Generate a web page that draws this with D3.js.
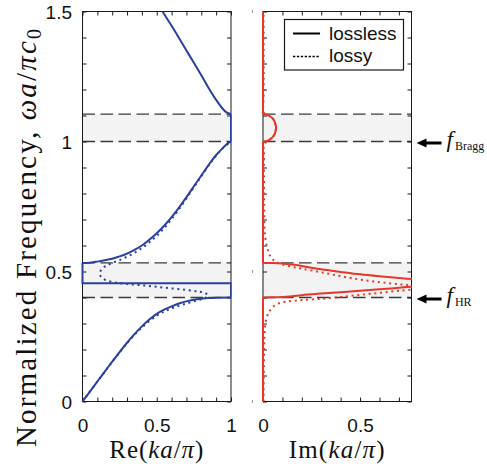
<!DOCTYPE html>
<html>
<head>
<meta charset="utf-8">
<script src="https://cdn.jsdelivr.net/npm/d3@7"></script>
<style>
  html, body { margin: 0; padding: 0; background: #fff; }
  svg { display: block; }
</style>
</head>
<body>
<svg id="chart" width="487" height="468"></svg>
<script>
// ---- data: frequency (omega a / pi c0) vs. wavenumber ----
const omegaTicks = [0, 0.5, 1, 1.5];
const reTicks = [0, 0.5, 1];
const imTicks = [0, 0.5];
const gapHR = [0.4, 0.533];
const gapBragg = [1.0, 1.105];
const fHR = 0.4;
const fBragg = 1.0;

// Re(ka/pi), lossless: [Re, omega]
const reBand1 = [[0,0],[0.05,0.038],[0.1,0.077],[0.15,0.115],[0.2,0.153],[0.25,0.19],[0.3,0.226],[0.35,0.259],[0.4,0.289],[0.45,0.315],[0.5,0.337],[0.55,0.353],[0.6,0.366],[0.65,0.377],[0.7,0.385],[0.75,0.391],[0.8,0.395],[0.85,0.398],[0.9,0.3995],[1,0.4]];
const reBand2 = [[0,0.533],[0.05,0.534],[0.1,0.538],[0.15,0.543],[0.2,0.549],[0.25,0.558],[0.3,0.569],[0.35,0.583],[0.4,0.6],[0.45,0.622],[0.5,0.647],[0.55,0.676],[0.6,0.709],[0.65,0.746],[0.7,0.786],[0.75,0.828],[0.8,0.869],[0.85,0.91],[0.9,0.948],[0.95,0.978],[0.98,0.994],[1,1.0]];
const reBand3 = [[1,1.105],[0.97,1.112],[0.95,1.122],[0.9,1.16],[0.85,1.205],[0.8,1.255],[0.75,1.303],[0.7,1.35],[0.65,1.398],[0.6,1.445],[0.55,1.49],[0.52,1.52]];
const reGapHR = [[1,0.4],[1,0.455],[0,0.455],[0,0.533]];
const reGapBragg = [[1,1.0],[1,1.105]];

// Re(ka/pi), lossy
const reLossy = [[0,0],[0.1,0.077],[0.2,0.152],[0.3,0.224],[0.4,0.285],[0.5,0.33],[0.55,0.346],[0.6,0.358],[0.65,0.368],[0.7,0.377],[0.75,0.385],[0.8,0.393],[0.83,0.4],[0.845,0.408],[0.83,0.416],[0.78,0.423],[0.7,0.429],[0.6,0.435],[0.5,0.441],[0.4,0.447],[0.3,0.452],[0.22,0.458],[0.16,0.466],[0.13,0.476],[0.117,0.488],[0.12,0.5],[0.135,0.512],[0.16,0.522],[0.2,0.533],[0.25,0.544],[0.3,0.557],[0.35,0.572],[0.4,0.59],[0.45,0.612],[0.5,0.637],[0.55,0.667],[0.6,0.701],[0.65,0.74],[0.7,0.781],[0.75,0.824],[0.8,0.866],[0.85,0.908],[0.9,0.946],[0.95,0.977],[0.99,0.995]];

// Im(ka/pi), lossless: [Im, omega]
const imZero = [[[0,0],[0,0.4]],[[0,0.533],[0,1.0]],[[0,1.105],[0,1.5]]];
const imLowBranch = [[0,0.4],[0.05,0.4005],[0.1,0.402],[0.15,0.405],[0.2,0.409],[0.3,0.415],[0.4,0.4205],[0.5,0.426],[0.6,0.4315],[0.7,0.4375],[0.8,0.4435]];
const imHighBranch = [[0.8,0.469],[0.7,0.475],[0.6,0.4815],[0.5,0.489],[0.4,0.4985],[0.3,0.5085],[0.25,0.5145],[0.2,0.521],[0.15,0.5265],[0.1,0.5305],[0.05,0.5325],[0,0.533]];
const imBraggArc = [[0,1.0],[0.02,1.002],[0.04,1.01],[0.055,1.022],[0.064,1.037],[0.067,1.052],[0.064,1.068],[0.055,1.083],[0.04,1.095],[0.02,1.103],[0,1.105]];

// Im(ka/pi), lossy
const imLossy = [[0.003,0],[0.004,0.1],[0.005,0.18],[0.007,0.24],[0.01,0.285],[0.019,0.323],[0.03,0.343],[0.044,0.357],[0.06,0.369],[0.08,0.377],[0.11,0.383],[0.15,0.387],[0.2,0.39],[0.3,0.395],[0.4,0.402],[0.5,0.41],[0.6,0.418],[0.7,0.426],[0.8,0.434],[0.82,0.439],[0.8,0.444],[0.7,0.451],[0.6,0.459],[0.5,0.469],[0.4,0.482],[0.3,0.497],[0.2,0.511],[0.15,0.518],[0.1,0.527],[0.075,0.534],[0.055,0.543],[0.04,0.556],[0.028,0.575],[0.019,0.6],[0.012,0.63],[0.008,0.67],[0.006,0.75],[0.005,0.85],[0.005,0.95],[0.006,0.99],[0.025,1.003],[0.045,1.012],[0.058,1.026],[0.065,1.042],[0.066,1.055],[0.062,1.07],[0.053,1.085],[0.038,1.097],[0.018,1.104],[0.005,1.11],[0.004,1.2],[0.003,1.5]];

// ---- layout ----
const BLUE = "#2b3f9f", RED = "#e4382c", INK = "#1a1a1a";
const SANS = "'Liberation Sans', Arial, sans-serif";
const SERIF = "'Liberation Serif', serif";

const svg = d3.select("#chart");
const y = d3.scaleLinear().domain([0, 1.5]).range([401.5, 11.5]);
const xRe = d3.scaleLinear().domain([0, 1]).range([82.5, 231]);
const xIm = d3.scaleLinear().domain([0, 0.765]).range([263, 411.5]);

function drawPanel(x, id) {
  const g = svg.append("g");
  const [x0, x1] = x.range();
  // shaded band gaps with dashed edges
  [gapHR, gapBragg].forEach(gp => {
    g.append("rect").attr("x", x0).attr("width", x1 - x0)
      .attr("y", y(gp[1])).attr("height", y(gp[0]) - y(gp[1]))
      .attr("fill", "#f3f3f3");
    gp.forEach(v => {
      g.append("line").attr("x1", x0).attr("x2", x1)
        .attr("y1", y(v)).attr("y2", y(v))
        .attr("stroke", "#3a3a3a").attr("stroke-width", 1.3)
        .attr("stroke-dasharray", "12.5,5.5");
    });
  });
  // frame
  g.append("rect").attr("x", x0).attr("y", y(1.5))
    .attr("width", x1 - x0).attr("height", y(0) - y(1.5))
    .attr("fill", "none").attr("stroke", INK).attr("stroke-width", 1);
  // inward minor ticks on all four sides
  const yMinor = d3.range(0, 1.5001, 0.1);
  const xMinor = d3.range(0, x.domain()[1] + 1e-6, 0.1);
  const styleTicks = s => { s.select(".domain").remove(); s.selectAll("line").attr("stroke", INK); };
  g.append("g").attr("transform", `translate(${x0},0)`)
    .call(d3.axisLeft(y).tickValues(yMinor).tickSize(-4).tickFormat("")).call(styleTicks);
  g.append("g").attr("transform", `translate(${x1},0)`)
    .call(d3.axisRight(y).tickValues(yMinor).tickSize(-4).tickFormat("")).call(styleTicks);
  g.append("g").attr("transform", `translate(0,${y(0)})`)
    .call(d3.axisBottom(x).tickValues(xMinor).tickSize(-4).tickFormat("")).call(styleTicks);
  g.append("g").attr("transform", `translate(0,${y(1.5)})`)
    .call(d3.axisTop(x).tickValues(xMinor).tickSize(-4).tickFormat("")).call(styleTicks);
  // clip for curves
  svg.append("clipPath").attr("id", id).append("rect")
    .attr("x", x0 - 3).attr("y", y(1.5)).attr("width", x1 - x0 + 3.5).attr("height", y(0) - y(1.5));
  return g;
}

const gL = drawPanel(xRe, "clipL");
const gR = drawPanel(xIm, "clipR");

// tick labels
const labelAxis = s => {
  s.select(".domain").remove();
  s.selectAll("line").remove();
  s.selectAll("text").attr("font-family", SANS).attr("font-size", 19).attr("fill", "#111");
};
svg.append("g").attr("transform", `translate(${xRe.range()[0]},1)`)
  .call(d3.axisLeft(y).tickValues(omegaTicks).tickSize(0).tickPadding(10.5).tickFormat(d3.format("~g")))
  .call(labelAxis);
svg.append("g").attr("transform", `translate(0,${y(0)})`)
  .call(d3.axisBottom(xRe).tickValues(reTicks).tickSize(0).tickPadding(17).tickFormat(d3.format("~g")))
  .call(labelAxis);
svg.append("g").attr("transform", `translate(0,${y(0)})`)
  .call(d3.axisBottom(xIm).tickValues(imTicks).tickSize(0).tickPadding(17).tickFormat(d3.format("~g")))
  .call(labelAxis);

// faint stubs left of the second panel
omegaTicks.filter(v => v !== 1).forEach(v => {
  svg.append("line").attr("x1", 252.5).attr("x2", 252.5)
    .attr("y1", y(v) - 1.5).attr("y2", y(v) + 1.5)
    .attr("stroke", "#999").attr("stroke-width", 1);
});

// ---- curves ----
const smooth = x => d3.line().x(d => x(d[0])).y(d => y(d[1])).curve(d3.curveCatmullRom.alpha(0.5));
const straight = x => d3.line().x(d => x(d[0])).y(d => y(d[1]));

const cL = svg.append("g").attr("clip-path", "url(#clipL)");
cL.append("path").attr("d", smooth(xRe)(reLossy)).attr("fill", "none")
  .attr("stroke", BLUE).attr("stroke-width", 2).attr("stroke-dasharray", "2,3.7");
[reBand1, reBand2, reBand3].forEach(b =>
  cL.append("path").attr("d", smooth(xRe)(b)).attr("fill", "none")
    .attr("stroke", BLUE).attr("stroke-width", 2));
[reGapHR, reGapBragg].forEach(s =>
  cL.append("path").attr("d", straight(xRe)(s)).attr("fill", "none")
    .attr("stroke", BLUE).attr("stroke-width", 2));

const cR = svg.append("g").attr("clip-path", "url(#clipR)");
cR.append("path").attr("d", smooth(xIm)(imLossy)).attr("fill", "none")
  .attr("stroke", RED).attr("stroke-width", 2).attr("stroke-dasharray", "2,3.7");
imZero.forEach(s =>
  cR.append("path").attr("d", straight(xIm)(s)).attr("fill", "none")
    .attr("stroke", RED).attr("stroke-width", 2));
[imLowBranch, imHighBranch, imBraggArc].forEach(b =>
  cR.append("path").attr("d", smooth(xIm)(b)).attr("fill", "none")
    .attr("stroke", RED).attr("stroke-width", 2));

// ---- legend ----
const lg = svg.append("g");
lg.append("rect").attr("x", 284.5).attr("y", 19.5).attr("width", 119).attr("height", 50.5)
  .attr("fill", "#fff").attr("stroke", INK).attr("stroke-width", 1.2);
lg.append("line").attr("x1", 293).attr("x2", 320).attr("y1", 33.5).attr("y2", 33.5)
  .attr("stroke", "#000").attr("stroke-width", 2);
lg.append("line").attr("x1", 293).attr("x2", 320).attr("y1", 56.5).attr("y2", 56.5)
  .attr("stroke", "#000").attr("stroke-width", 1.5).attr("stroke-dasharray", "2.3,1.6");
lg.append("text").attr("x", 329).attr("y", 39.5).text("lossless")
  .attr("font-family", SANS).attr("font-size", 19).attr("fill", "#111");
lg.append("text").attr("x", 329).attr("y", 62).text("lossy")
  .attr("font-family", SANS).attr("font-size", 19).attr("fill", "#111");

// ---- axis titles (math-style serif, slightly loose) ----
function spread(text, target) {
  const n = text.text().length;
  const len = text.node().getComputedTextLength();
  text.attr("letter-spacing", Math.max(0, (target - len) / (n - 1)));
}

function kTitle(prefix, cx) {
  const t = svg.append("text").attr("x", cx).attr("y", 457.5)
    .attr("text-anchor", "middle").attr("font-family", SERIF).attr("font-size", 25).attr("fill", "#111");
  t.append("tspan").text(prefix + "(");
  t.append("tspan").attr("font-style", "italic").text("ka");
  t.append("tspan").text("/");
  t.append("tspan").attr("font-style", "italic").text("π");
  t.append("tspan").text(")");
  return t;
}
spread(kTitle("Re", (xRe.range()[0] + xRe.range()[1]) / 2), 94);
spread(kTitle("Im", (xIm.range()[0] + xIm.range()[1]) / 2), 96);

const yt = svg.append("text").attr("transform", "translate(35.5,447) rotate(-90)")
  .attr("text-anchor", "start").attr("font-family", SERIF).attr("font-size", 29).attr("fill", "#111");
yt.append("tspan").text("Normalized Frequency, ");
yt.append("tspan").attr("font-style", "italic").text("ωa");
yt.append("tspan").text("/");
yt.append("tspan").attr("font-style", "italic").text("πc");
yt.append("tspan").attr("font-size", 20).attr("dy", 5).text("0");
spread(yt, 418);

// ---- frequency markers ----
[[fBragg, "Bragg"], [fHR, "HR"]].forEach(([v, sub]) => {
  const yy = y(v) + 1.5;
  svg.append("line").attr("x1", 424).attr("x2", 441.5).attr("y1", yy).attr("y2", yy)
    .attr("stroke", "#000").attr("stroke-width", 3);
  svg.append("path").attr("d", `M416.5,${yy} L426.5,${yy - 4.5} L426.5,${yy + 4.5} Z`).attr("fill", "#000");
  const t = svg.append("text").attr("x", 446.5).attr("y", y(v) + 5.5)
    .attr("font-family", SERIF).attr("fill", "#111");
  t.append("tspan").attr("font-style", "italic").attr("font-size", 23).text("f");
  t.append("tspan").attr("font-size", 12).attr("dx", 2).attr("dy", 2.5).text(sub);
});
</script>
</body>
</html>
